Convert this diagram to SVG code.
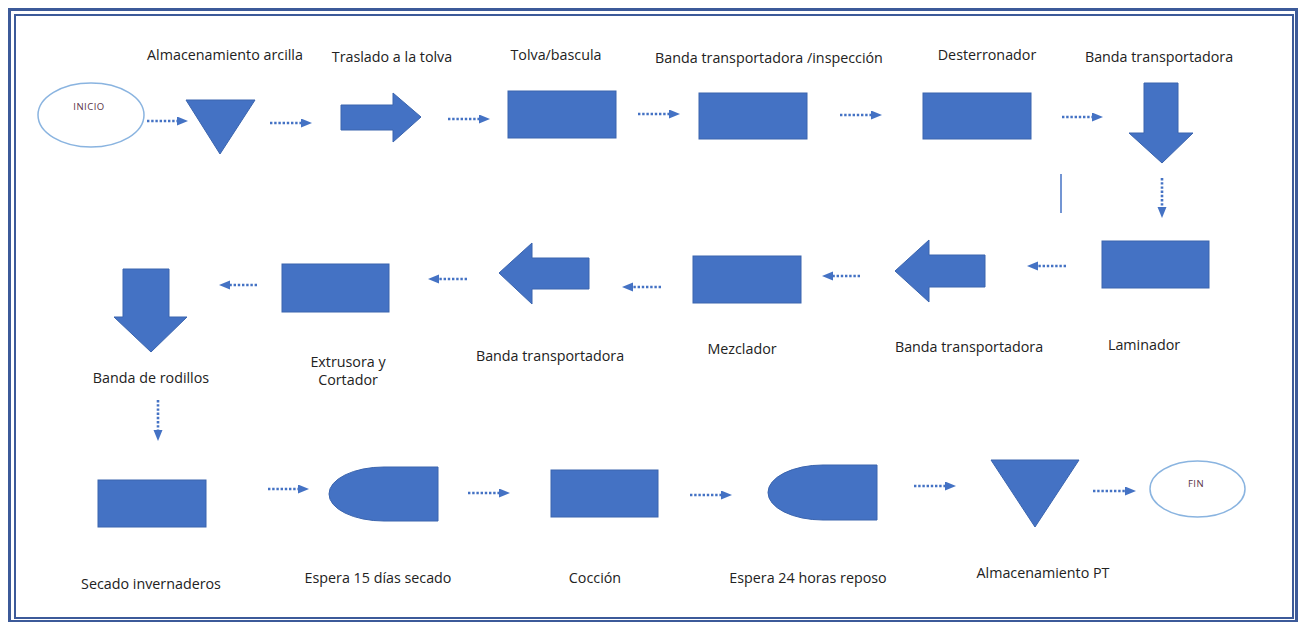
<svg xmlns="http://www.w3.org/2000/svg" width="1299" height="622" viewBox="0 0 1299 622">
<style>
.shape{fill:#4472C4;stroke:#3A64AE;stroke-width:1}
.term{fill:#FFFFFF;stroke:#8AB4E0;stroke-width:1.5}
.lbl{font-family:"Open Sans","Liberation Sans",sans-serif;font-size:14.3px;fill:#222222;text-anchor:middle}
.small{font-family:"Open Sans","Liberation Sans",sans-serif;font-size:9.5px;fill:#5a3346;text-anchor:middle;letter-spacing:0.5px}
.flow{stroke:#4472C4;stroke-width:2.6;stroke-dasharray:2.4 1.8;fill:none;marker-end:url(#head)}
.frame{fill:none;stroke:#3C5A99}
</style>
<defs>
<marker id="head" markerUnits="userSpaceOnUse" markerWidth="12" markerHeight="10" refX="0" refY="4.5" orient="auto">
<path d="M0,0 L11,4.5 L0,9 Z" fill="#4472C4"/>
</marker>
</defs>
<rect width="1299" height="622" fill="#FFFFFF"/>
<rect class="frame" x="9.5" y="9.5" width="1287" height="612" stroke-width="3"/>
<rect class="frame" x="15" y="15" width="1278" height="603" stroke-width="2"/>

<g id="connectors">
<line class="flow" x1="147" y1="121" x2="177" y2="121"/>
<line class="flow" x1="270" y1="123" x2="301" y2="123"/>
<line class="flow" x1="448" y1="119" x2="479" y2="119"/>
<line class="flow" x1="638" y1="114" x2="669" y2="114"/>
<line class="flow" x1="840" y1="115" x2="871" y2="115"/>
<line class="flow" x1="1062" y1="117" x2="1092" y2="117"/>
<line class="flow" x1="1162" y1="178" x2="1162" y2="207"/>
<line class="flow" x1="1066" y1="266" x2="1038" y2="266"/>
<line class="flow" x1="860" y1="276" x2="833" y2="276"/>
<line class="flow" x1="661" y1="287" x2="633" y2="287"/>
<line class="flow" x1="467" y1="279" x2="439" y2="279"/>
<line class="flow" x1="257" y1="285" x2="230" y2="285"/>
<line class="flow" x1="158" y1="400" x2="158" y2="430"/>
<line class="flow" x1="268" y1="489" x2="298" y2="489"/>
<line class="flow" x1="468" y1="493" x2="499" y2="493"/>
<line class="flow" x1="690" y1="495" x2="721" y2="495"/>
<line class="flow" x1="914" y1="486" x2="945" y2="486"/>
<line class="flow" x1="1093" y1="491" x2="1125" y2="491"/>
<line x1="1061" y1="174" x2="1061" y2="213" stroke="#4472C4" stroke-width="1.5"/>
</g>

<g id="inicio">
<ellipse class="term" cx="91" cy="115" rx="53" ry="32"/>
<text class="small" x="89" y="110">INICIO</text>
</g>

<g id="almacenamiento-arcilla">
<polygon class="shape" points="186,100 255,100 220,154"/>
<text class="lbl" x="225" y="60">Almacenamiento arcilla</text>
</g>

<g id="traslado-tolva">
<polygon class="shape" points="341,105 393,105 393,93 421,117 393,142 393,130 341,130"/>
<text class="lbl" x="392" y="62">Traslado a la tolva</text>
</g>

<g id="tolva-bascula">
<rect class="shape" x="508" y="91" width="108" height="47"/>
<text class="lbl" x="556" y="60">Tolva/bascula</text>
</g>

<g id="banda-inspeccion">
<rect class="shape" x="699" y="93" width="108" height="46"/>
<text class="lbl" x="769" y="63">Banda transportadora /inspección</text>
</g>

<g id="desterronador">
<rect class="shape" x="923" y="93" width="108" height="46"/>
<text class="lbl" x="987" y="60">Desterronador</text>
</g>

<g id="banda-transportadora-1">
<polygon class="shape" points="1144,83 1178,83 1178,133 1193,133 1162,163 1129,133 1144,133"/>
<text class="lbl" x="1159" y="62">Banda transportadora</text>
</g>

<g id="laminador">
<rect class="shape" x="1102" y="241" width="107" height="47"/>
<text class="lbl" x="1144" y="350">Laminador</text>
</g>

<g id="banda-transportadora-2">
<polygon class="shape" points="985,255 929,255 929,240 895,271 929,302 929,287 985,287"/>
<text class="lbl" x="969" y="352">Banda transportadora</text>
</g>

<g id="mezclador">
<rect class="shape" x="693" y="256" width="108" height="47"/>
<text class="lbl" x="742" y="354">Mezclador</text>
</g>

<g id="banda-transportadora-3">
<polygon class="shape" points="589,258 532,258 532,243 499,273 532,304 532,289 589,289"/>
<text class="lbl" x="550" y="361">Banda transportadora</text>
</g>

<g id="extrusora-cortador">
<rect class="shape" x="282" y="264" width="107" height="48"/>
<text class="lbl" x="348" y="367">Extrusora y</text>
<text class="lbl" x="348" y="385">Cortador</text>
</g>

<g id="banda-rodillos">
<polygon class="shape" points="123,269 169,269 169,317 187,317 151,352 114,317 123,317"/>
<text class="lbl" x="151" y="383">Banda de rodillos</text>
</g>

<g id="secado-invernaderos">
<rect class="shape" x="98" y="480" width="108" height="47"/>
<text class="lbl" x="151" y="589">Secado invernaderos</text>
</g>

<g id="espera-15">
<path class="shape" d="M438,467 H384 A55,27 0 0 0 384,521 H438 Z"/>
<text class="lbl" x="378" y="583">Espera 15 días secado</text>
</g>

<g id="coccion">
<rect class="shape" x="551" y="470" width="107" height="47"/>
<text class="lbl" x="595" y="583">Cocción</text>
</g>

<g id="espera-24">
<path class="shape" d="M877,465 H823 A55,27.5 0 0 0 823,520 H877 Z"/>
<text class="lbl" x="808" y="583">Espera 24 horas reposo</text>
</g>

<g id="almacenamiento-pt">
<polygon class="shape" points="991,460 1079,460 1035,527"/>
<text class="lbl" x="1043" y="578">Almacenamiento PT</text>
</g>

<g id="fin">
<ellipse class="term" cx="1197.5" cy="489" rx="47.5" ry="28"/>
<text class="small" x="1196" y="487">FIN</text>
</g>
</svg>
